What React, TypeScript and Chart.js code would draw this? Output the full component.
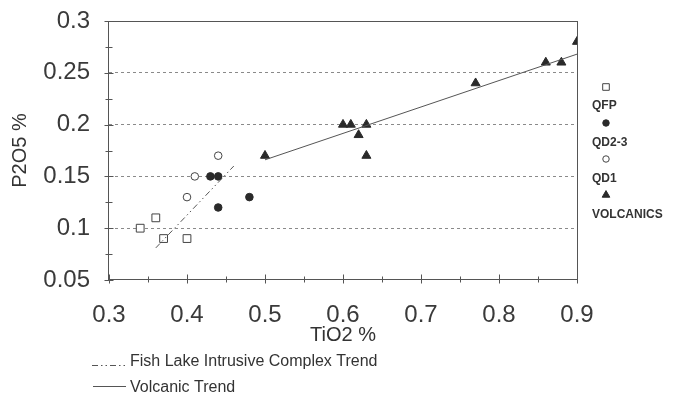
import React, { useEffect, useRef } from "react";
import { Chart, registerables } from "chart.js";

Chart.register(...registerables);

// ---- data ----
const qfpTiO2 = [0.34, 0.36, 0.37, 0.40];
const qfpP2O5 = [0.10, 0.11, 0.09, 0.09];
const qd23TiO2 = [0.43, 0.44, 0.44, 0.48];
const qd23P2O5 = [0.15, 0.15, 0.12, 0.13];
const qd1TiO2 = [0.40, 0.41, 0.44];
const qd1P2O5 = [0.13, 0.15, 0.17];
const volcTiO2 = [0.50, 0.60, 0.61, 0.62, 0.63, 0.63, 0.77, 0.86, 0.88, 0.90];
const volcP2O5 = [0.17, 0.20, 0.20, 0.19, 0.20, 0.17, 0.24, 0.26, 0.26, 0.28];
const fishTrendTiO2 = [0.36, 0.46];
const fishTrendP2O5 = [0.081, 0.160];
const volcTrendTiO2 = [0.50, 0.90];
const volcTrendP2O5 = [0.166, 0.268];

const seriesNames = ["QFP", "QD2-3", "QD1", "VOLCANICS"];
const trendNames = ["Fish Lake Intrusive Complex Trend", "Volcanic Trend"];

const xTickValues = [0.3, 0.4, 0.5, 0.6, 0.7, 0.8, 0.9];
const xTickLabels = ["0.3", "0.4", "0.5", "0.6", "0.7", "0.8", "0.9"];
const yTickValues = [0.05, 0.1, 0.15, 0.2, 0.25, 0.3];
const yTickLabels = ["0.05", "0.1", "0.15", "0.2", "0.25", "0.3"];
const xTitle = "TiO2 %";
const yTitle = "P2O5 %";

const FONT = "'Liberation Sans', Arial, Helvetica, sans-serif";
const INK = "#333";
const MARK = "#2a2a2a";

const zip = (xs: number[], ys: number[]) => xs.map((x, i) => ({ x, y: ys[i] }));

function drawMarker(ctx: CanvasRenderingContext2D, style: string, x: number, y: number, r: number, fill: string, stroke: string) {
  ctx.save();
  ctx.beginPath();
  if (style === "rect") {
    const s = r * Math.SQRT1_2;
    ctx.rect(x - s, y - s, 2 * s, 2 * s);
  } else if (style === "triangle") {
    ctx.moveTo(x, y - r);
    ctx.lineTo(x + r * 0.866, y + r * 0.5);
    ctx.lineTo(x - r * 0.866, y + r * 0.5);
    ctx.closePath();
  } else {
    ctx.arc(x, y, r, 0, Math.PI * 2);
  }
  ctx.fillStyle = fill;
  ctx.fill();
  ctx.lineWidth = 1;
  ctx.strokeStyle = stroke;
  ctx.stroke();
  ctx.restore();
}

const framePlugin = {
  id: "frame",
  beforeDatasetsDraw(chart: any) {
    const ctx = chart.ctx as CanvasRenderingContext2D;
    const { left, right, top, bottom } = chart.chartArea;
    const xs = chart.scales.x;
    const ys = chart.scales.y;
    ctx.save();
    ctx.strokeStyle = "#555";
    ctx.lineWidth = 1;
    const L = Math.round(left) - 0.5;
    const R = Math.round(right) + 0.5;
    const T = Math.round(top) + 0.5;
    const B = Math.round(bottom) - 0.5;
    ctx.strokeRect(L, T, R - L, B - T);
    ctx.beginPath();
    yTickValues.forEach((v, i) => {
      const py = Math.round(ys.getPixelForValue(v)) + 0.5;
      ctx.moveTo(L - 4, py);
      ctx.lineTo(L + 5, py);
      if (i < yTickValues.length - 1) {
        const m = Math.round(ys.getPixelForValue((v + yTickValues[i + 1]) / 2)) + 0.5;
        ctx.moveTo(L - 3, m);
        ctx.lineTo(L + 4, m);
      }
    });
    xTickValues.forEach((v, i) => {
      const px = Math.round(xs.getPixelForValue(v)) + 0.5;
      ctx.moveTo(px, B - 5);
      ctx.lineTo(px, B + 4);
      if (i < xTickValues.length - 1) {
        const m = Math.round(xs.getPixelForValue((v + xTickValues[i + 1]) / 2)) + 0.5;
        ctx.moveTo(m, B - 3);
        ctx.lineTo(m, B + 3);
      }
    });
    ctx.stroke();
    ctx.restore();
  },
  afterDraw(chart: any) {
    const ctx = chart.ctx as CanvasRenderingContext2D;
    const ds = chart.data.datasets;
    ctx.save();
    const markerX = 606;
    const markerY = [87, 123, 159, 195];
    const labelY = [106, 143, 179, 215];
    ctx.font = `bold 12px ${FONT}`;
    ctx.textBaseline = "middle";
    ctx.textAlign = "left";
    for (let i = 0; i < 4; i++) {
      const d = ds[i + 2];
      drawMarker(ctx, d.pointStyle, markerX, markerY[i], d.pointRadius * 0.85, d.backgroundColor, d.borderColor);
      ctx.fillStyle = INK;
      ctx.fillText(seriesNames[i], 592, labelY[i]);
    }
    ctx.font = `16px ${FONT}`;
    const rows = [
      { d: ds[1], y: 365.5, ty: 362, name: trendNames[0], x1: 92 },
      { d: ds[0], y: 386.5, ty: 388, name: trendNames[1], x1: 93 },
    ];
    rows.forEach((r) => {
      ctx.save();
      ctx.strokeStyle = r.d.borderColor;
      ctx.lineWidth = 1;
      ctx.setLineDash(r.d.borderDash || []);
      ctx.beginPath();
      ctx.moveTo(r.x1, r.y);
      ctx.lineTo(126, r.y);
      ctx.stroke();
      ctx.restore();
      ctx.fillStyle = INK;
      ctx.fillText(r.name, 130, r.ty);
    });
    ctx.restore();
  },
};

export default function App() {
  const ref = useRef<HTMLCanvasElement | null>(null);
  useEffect(() => {
    if (!ref.current) return;
    const chart = new Chart(ref.current, {
      type: "scatter",
      data: {
        datasets: [
          {
            type: "line",
            label: trendNames[1],
            data: zip(volcTrendTiO2, volcTrendP2O5),
            borderColor: "#555",
            borderWidth: 1,
            pointRadius: 0,
            fill: false,
          } as any,
          {
            type: "line",
            label: trendNames[0],
            data: zip(fishTrendTiO2, fishTrendP2O5),
            borderColor: "#555",
            borderWidth: 1,
            borderDash: [6, 3, 1.5, 3, 1.5, 3],
            pointRadius: 0,
            fill: false,
          } as any,
          {
            label: seriesNames[0],
            data: zip(qfpTiO2, qfpP2O5),
            pointStyle: "rect",
            pointRadius: 5.5,
            backgroundColor: "#fff",
            borderColor: "#444",
            borderWidth: 1,
          },
          {
            label: seriesNames[1],
            data: zip(qd23TiO2, qd23P2O5),
            pointStyle: "circle",
            pointRadius: 3.8,
            backgroundColor: MARK,
            borderColor: MARK,
            borderWidth: 1,
          },
          {
            label: seriesNames[2],
            data: zip(qd1TiO2, qd1P2O5),
            pointStyle: "circle",
            pointRadius: 3.8,
            backgroundColor: "#fff",
            borderColor: "#444",
            borderWidth: 1,
          },
          {
            label: seriesNames[3],
            data: zip(volcTiO2, volcP2O5),
            pointStyle: "triangle",
            pointRadius: 5.2,
            backgroundColor: MARK,
            borderColor: MARK,
            borderWidth: 1,
          },
        ],
      },
      options: {
        animation: false,
        responsive: false,
        events: [],
        layout: { padding: { top: 21, right: 96, bottom: 52, left: 0 } },
        plugins: { legend: { display: false }, tooltip: { enabled: false } },
        scales: {
          x: {
            type: "linear",
            min: 0.3,
            max: 0.9,
            afterBuildTicks: (s: any) => {
              s.ticks = xTickValues.map((v) => ({ value: v }));
            },
            afterFit: (s: any) => {
              s.height = 67;
              s.paddingLeft = 0;
              s.paddingRight = 0;
            },
            grid: { display: false },
            border: { display: false },
            ticks: {
              color: "#3a3a3a",
              padding: 13,
              font: { family: FONT, size: 24 },
              maxRotation: 0,
              autoSkip: false,
              callback: (v: any) => {
                const i = xTickValues.findIndex((t) => Math.abs(t - Number(v)) < 1e-9);
                return i >= 0 ? xTickLabels[i] : "";
              },
            },
            title: {
              display: true,
              text: xTitle,
              color: INK,
              font: { family: FONT, size: 20 },
              padding: { top: 0, bottom: 0 },
            },
          },
          y: {
            type: "linear",
            min: 0.05,
            max: 0.3,
            afterBuildTicks: (s: any) => {
              s.ticks = yTickValues.map((v) => ({ value: v }));
            },
            afterFit: (s: any) => {
              s.width = 109;
              s.paddingTop = 0;
              s.paddingBottom = 0;
            },
            grid: {
              drawTicks: false,
              color: (c: any) => {
                const v = c.tick ? c.tick.value : 0;
                return Math.abs(v - 0.05) < 1e-9 || Math.abs(v - 0.3) < 1e-9 ? "rgba(0,0,0,0)" : "#8a8a8a";
              },
              lineWidth: 1,
            },
            border: { display: false, dash: [3, 3] },
            ticks: {
              color: "#3a3a3a",
              padding: 19,
              font: { family: FONT, size: 24 },
              autoSkip: false,
              callback: (v: any) => {
                const i = yTickValues.findIndex((t) => Math.abs(t - Number(v)) < 1e-9);
                return i >= 0 ? yTickLabels[i] : "";
              },
            },
            title: {
              display: true,
              text: yTitle,
              color: INK,
              font: { family: FONT, size: 20 },
              padding: { top: 8, bottom: 0 },
            },
          },
        },
      },
      plugins: [framePlugin],
    } as any);
    return () => chart.destroy();
  }, []);
  return (
    <div style={{ position: "absolute", left: 0, top: 0, width: 673, height: 399, background: "#fff" }}>
      <canvas ref={ref} width={673} height={399} style={{ display: "block", width: 673, height: 399 }} />
    </div>
  );
}
